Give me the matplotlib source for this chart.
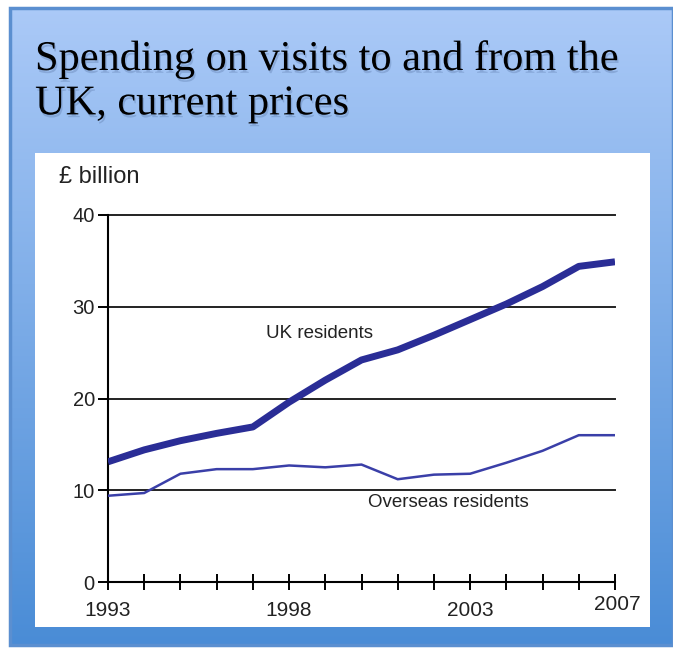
import numpy as np
import matplotlib.pyplot as plt
from matplotlib.patches import Rectangle
from matplotlib.transforms import ScaledTranslation
import matplotlib.patheffects as pe

# data (£ billion, current prices)
years = list(range(1993, 2008))
uk_residents = [13.1, 14.4, 15.4, 16.2, 16.9, 19.6, 22.0, 24.2, 25.3, 26.9, 28.6, 30.3, 32.2, 34.4, 34.9]
overseas_residents = [9.4, 9.7, 11.8, 12.3, 12.3, 12.7, 12.5, 12.8, 11.2, 11.7, 11.8, 13.0, 14.3, 16.0, 16.0]
year_labels = {1993: '1993', 1998: '1998', 2003: '2003', 2007: '2007'}
y_ticks = [0, 10, 20, 30, 40]

W, H = 673, 649
fig = plt.figure(figsize=(W / 100, H / 100), dpi=100)
sans = ['Liberation Sans']
narrow = ['Liberation Sans Narrow', 'Liberation Sans']

# fondo con degradado azul
bg = fig.add_axes([0, 0, 1, 1])
bg.set_xlim(0, W)
bg.set_ylim(H, 0)
bg.axis('off')
top = np.array([0.67, 0.79, 0.97])
bot = np.array([0.29, 0.55, 0.84])
t = np.linspace(0, 1, 256)[:, None, None]
grad = top * (1 - t) + bot * t
grad = np.repeat(grad, 2, axis=1)
bg.imshow(grad, extent=[10, W, 645, 8], aspect='auto', zorder=0)
bg.add_patch(Rectangle((10, 8), W - 10, 637, fill=False, edgecolor='#5b8fd0', lw=2.5, zorder=1))
bg.add_patch(Rectangle((35, 153), 615, 474, facecolor='white', edgecolor='none', zorder=2))

# titulo
fig.text(35 / W, 1 - 40 / H, 'Spending on visits to and from the\nUK, current prices',
         family='Liberation Serif', fontsize=30.5, va='top', ha='left', linespacing=1.2,
         path_effects=[pe.withSimplePatchShadow(offset=(1, -2), shadow_rgbFace='#5a78a8', alpha=0.35)])

# grafico
ax = fig.add_axes([108 / W, 1 - 582 / H, (615 - 108) / W, (582 - 215) / H])
ax.patch.set_alpha(0)
ax.plot(years, uk_residents, color='#2a2d96', lw=5, solid_capstyle='butt', zorder=3)
ax.plot(years, overseas_residents, color='#3a3fa8', lw=1.8, zorder=3)

ax.set_xlim(1993, 2007)
ax.set_ylim(0, 40)
for s in ['top', 'right']:
    ax.spines[s].set_visible(False)
ax.spines['left'].set_linewidth(1.5)
ax.spines['bottom'].set_linewidth(1.5)
for v in y_ticks[1:]:
    ax.axhline(v, color='#222222', lw=1.4, zorder=1, clip_on=False)

ax.set_yticks(y_ticks)
ax.set_xticks(years)
ax.set_xticklabels([year_labels.get(y, '') for y in years])
ax.tick_params(axis='x', direction='inout', length=12, width=1.4, pad=8, labelsize=15)
ax.tick_params(axis='y', direction='out', length=7.5, width=1.4, pad=2, labelsize=14.5)
for lab in ax.get_xticklabels() + ax.get_yticklabels():
    lab.set_family(sans)
    lab.set_color('#222222')
# 2007 un poco mas arriba
lab2007 = ax.get_xticklabels()[-1]
lab2007.set_transform(lab2007.get_transform() + ScaledTranslation(2 / 100, 6 / 100, fig.dpi_scale_trans))

fig.text(59 / W, 1 - 177 / H, '£ billion', family=sans, fontsize=17,
         color='#222222', va='center', ha='left')
ax.text(1998.85, 27.1, 'UK residents', family=narrow, fontsize=13.5,
        color='#222222', ha='center', va='center')
ax.text(2002.39, 8.7, 'Overseas residents', family=narrow, fontsize=13.5,
        color='#222222', ha='center', va='center')

fig.savefig('out.png', dpi=100)
